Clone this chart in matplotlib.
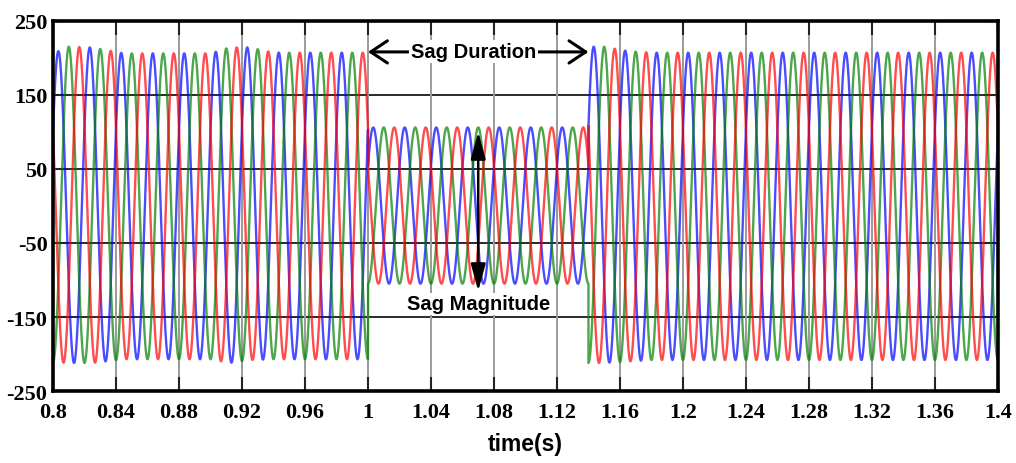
import numpy as np
import matplotlib
matplotlib.use("Agg")
import matplotlib.pyplot as plt
from matplotlib.ticker import FixedLocator, FuncFormatter

# ---------------- data ----------------
phase_colors = ["#0000ff", "#008000", "#ff0000"]   # phase a, b, c
phase_shift_deg = [30, -90, 150]                     # phase angle of each phase
freq_hz = 50
t_start, t_end = 0.8, 1.4
sag_start, sag_end = 1.0, 1.14
sag_upper, sag_lower = 106, -105                     # peak / trough during the sag

# peak envelope (upper / lower extremes) outside the sag
env_t = [0.80, 0.81, 0.825, 0.845, 0.90, 0.912, 0.925, 0.94, 1.00,
         1.14, 1.15, 1.165, 1.18, 1.40]
env_upper = [206, 215, 214, 206, 206, 214, 214, 207, 207,
             215, 215, 209, 207, 207]
env_lower = [-211, -212, -212, -207, -207, -212, -208, -207, -207,
             -212, -212, -210, -208, -208]

xticks = [0.8, 0.84, 0.88, 0.92, 0.96, 1.0, 1.04, 1.08, 1.12, 1.16,
          1.2, 1.24, 1.28, 1.32, 1.36, 1.4]
yticks = [-250, -150, -50, 50, 150, 250]
xlabel = "time(s)"
duration_label = "Sag Duration"
magnitude_label = "Sag Magnitude"
magnitude_x = 1.07
magnitude_top, magnitude_bottom = 100, -115
duration_y = 208

# ---------------- build waveforms ----------------
t = np.linspace(t_start, t_end, 60001)
up = np.interp(t, env_t, env_upper)
lo = np.interp(t, env_t, env_lower)
in_sag = (t >= sag_start) & (t < sag_end)
up[in_sag] = sag_upper
lo[in_sag] = sag_lower
mid = (up + lo) / 2.0
amp = (up - lo) / 2.0

sans = "Liberation Sans"

fig = plt.figure(figsize=(10.16, 4.64), dpi=100)
ax = fig.add_axes([0.0522, 0.155, 0.930, 0.798])

for col, sh in zip(phase_colors, phase_shift_deg):
    v = mid + amp * np.sin(2 * np.pi * freq_hz * t + np.deg2rad(sh))
    ax.plot(t, v, color=col, lw=1.7, alpha=0.7, zorder=3)

ax.set_xlim(t_start, t_end)
ax.set_ylim(-250, 250)
ax.xaxis.set_major_locator(FixedLocator(xticks))
ax.yaxis.set_major_locator(FixedLocator(yticks))
ax.xaxis.set_major_formatter(FuncFormatter(lambda x, p: "%g" % round(x, 2)))
ax.yaxis.set_major_formatter(FuncFormatter(lambda y, p: "%g" % y))

for y in yticks:
    ax.axhline(y, color="#2a2a2a", lw=1.4, zorder=1)
for x in xticks:
    ax.axvline(x, color="#9a9a9a", lw=1.4, zorder=1)

ax.tick_params(direction="in", length=10, width=1.5, top=True, right=True,
               colors="#222222")
for lab in ax.get_xticklabels() + ax.get_yticklabels():
    lab.set_fontfamily("Liberation Serif")
    lab.set_fontweight("bold")
    lab.set_fontsize(16)
    lab.set_color("black")
ax.tick_params(axis="x", pad=8)
ax.tick_params(axis="y", pad=4)

for s in ax.spines.values():
    s.set_linewidth(2.6)
    s.set_color("black")
    s.set_zorder(5)

ax.set_xlabel(xlabel, fontfamily=sans, fontweight="bold",
              fontsize=16.5, labelpad=7)

# Sag duration arrow and label
ax.annotate("", xy=(sag_start, duration_y), xytext=(sag_end, duration_y),
            arrowprops=dict(arrowstyle="<->,head_length=0.6,head_width=0.4",
                            lw=2.2, color="black", mutation_scale=20,
                            shrinkA=0, shrinkB=0), zorder=6)
ax.text((sag_start + sag_end) / 2 - 0.003, duration_y, duration_label,
        ha="center", va="center", fontfamily=sans,
        fontweight="bold", fontsize=14.5, color="black", zorder=7,
        bbox=dict(facecolor="white", edgecolor="none", pad=1.5))

# Sag magnitude arrow and label
ax.annotate("", xy=(magnitude_x, magnitude_top), xytext=(magnitude_x, magnitude_bottom),
            arrowprops=dict(arrowstyle="<|-|>,head_length=1.1,head_width=0.3",
                            lw=1.8, color="black", mutation_scale=15,
                            shrinkA=0, shrinkB=0), zorder=6)
ax.text(magnitude_x, -132, magnitude_label, ha="center", va="center",
        fontfamily=sans, fontweight="bold", fontsize=14.5,
        color="black", zorder=7,
        bbox=dict(facecolor="white", edgecolor="none", pad=1.0))

fig.savefig("out.png", dpi=100)
